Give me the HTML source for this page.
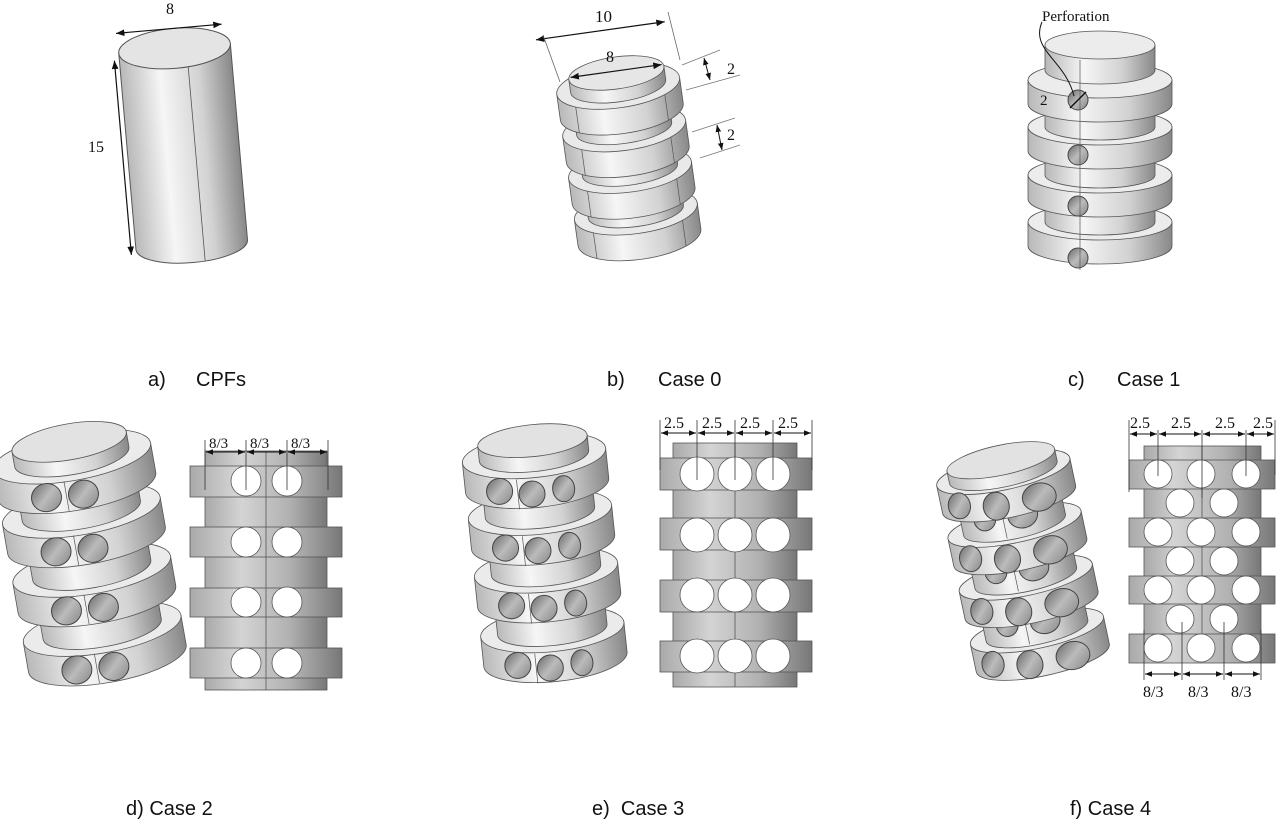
<!DOCTYPE html>
<html><head><meta charset="utf-8"><style>
html,body{margin:0;padding:0;background:#fff}
svg{display:block}
text{font-family:"Liberation Serif",serif;fill:#111}
.cap{font-family:"Liberation Sans",sans-serif;font-size:20px}
</style></head><body>
<svg width="1280" height="824" viewBox="0 0 1280 824" xmlns="http://www.w3.org/2000/svg">
<defs>
<linearGradient id="gs" x1="0" x2="1" y1="0" y2="0">
<stop offset="0" stop-color="#b8b8b8"/><stop offset=".35" stop-color="#f6f6f6"/><stop offset=".7" stop-color="#d2d2d2"/><stop offset="1" stop-color="#888"/>
</linearGradient>
<linearGradient id="gf" x1="0" x2="1" y1="0" y2="0">
<stop offset="0" stop-color="#a9a9a9"/><stop offset=".3" stop-color="#d4d4d4"/><stop offset=".7" stop-color="#b0b0b0"/><stop offset="1" stop-color="#777"/>
</linearGradient>
<linearGradient id="gh" x1="0" x2="1" y1="0" y2="1">
<stop offset="0" stop-color="#666"/><stop offset=".5" stop-color="#bbb"/><stop offset="1" stop-color="#888"/>
</linearGradient>
<marker id="ar" viewBox="0 0 10 10" refX="10" refY="5" markerWidth="7" markerHeight="7" orient="auto-start-reverse"><path d="M0 1L10 5L0 9Z" fill="#111"/></marker>
<!-- ring b -->
<g id="rB"><path d="M-62 0V26A62 22 0 0 0 62 26V0Z" fill="url(#gs)" stroke="#555" stroke-width=".8"/><ellipse rx="62" ry="22" fill="#e9e9e9" stroke="#555" stroke-width=".8"/><line x1="-45" y1="15" x2="-45" y2="41" stroke="#555" stroke-width=".7"/><line x1="45" y1="15" x2="45" y2="41" stroke="#555" stroke-width=".7"/></g>
<path id="cB" d="M-48 -45V0A48 15 0 0 0 48 0V-45Z" fill="url(#gs)" stroke="#555" stroke-width=".8"/>
<!-- ring c -->
<g id="rC"><path d="M-72 0V24A72 18 0 0 0 72 24V0Z" fill="url(#gs)" stroke="#555" stroke-width=".8"/><ellipse rx="72" ry="18" fill="#ececec" stroke="#555" stroke-width=".8"/></g>
<path id="cC" d="M-55 -47V0A55 13 0 0 0 55 0V-47Z" fill="url(#gs)" stroke="#555" stroke-width=".8"/>
<!-- ring obliques -->
<g id="rD"><path d="M-80 0V30A80 24 0 0 0 80 30V0Z" fill="url(#gs)" stroke="#555" stroke-width=".8"/><ellipse rx="80" ry="24" fill="#ebebeb" stroke="#555" stroke-width=".8"/>
<ellipse cx="-32" cy="36" rx="15" ry="14" fill="url(#gh)" stroke="#444"/><ellipse cx="5" cy="39" rx="15" ry="14" fill="url(#gh)" stroke="#444"/><line x1="-12" y1="23" x2="-12" y2="53" stroke="#555" stroke-width=".7"/></g>
<path id="cD" d="M-60 -60V0A60 18 0 0 0 60 0V-60Z" fill="url(#gs)" stroke="#555" stroke-width=".8"/>
<g id="rE"><path d="M-72 0V30A72 22 0 0 0 72 30V0Z" fill="url(#gs)" stroke="#555" stroke-width=".8"/><ellipse rx="72" ry="22" fill="#ebebeb" stroke="#555" stroke-width=".8"/>
<ellipse cx="-38" cy="32" rx="13" ry="13" fill="url(#gh)" stroke="#444"/><ellipse cx="-6" cy="38" rx="13" ry="13" fill="url(#gh)" stroke="#444"/><ellipse cx="26" cy="36" rx="11" ry="13" fill="url(#gh)" stroke="#444"/><line x1="-20" y1="22" x2="-20" y2="52" stroke="#555" stroke-width=".7"/></g>
<path id="cE" d="M-55 -60V0A55 16 0 0 0 55 0V-60Z" fill="url(#gs)" stroke="#555" stroke-width=".8"/>
<g id="rF"><path d="M-68 0V28A68 18 0 0 0 68 28V0Z" fill="url(#gs)" stroke="#555" stroke-width=".8"/><ellipse rx="68" ry="18" fill="#ebebeb" stroke="#555" stroke-width=".8"/>
<ellipse cx="-50" cy="24" rx="11" ry="13" fill="url(#gh)" stroke="#444"/><ellipse cx="-14" cy="32" rx="13" ry="14" fill="url(#gh)" stroke="#444"/><ellipse cx="30" cy="32" rx="17" ry="14" fill="url(#gh)" stroke="#444"/></g>
<g id="cF"><path d="M-52 -34V0A52 14 0 0 0 52 0V-34Z" fill="url(#gs)" stroke="#555" stroke-width=".8"/><ellipse cx="-28" cy="-12" rx="11" ry="12" fill="url(#gh)" stroke="#444"/><ellipse cx="10" cy="-8" rx="15" ry="13" fill="url(#gh)" stroke="#444"/><line x1="-10" y1="-34" x2="-10" y2="12" stroke="#555" stroke-width=".7"/></g>
</defs>

<!-- a) CPF -->
<g transform="rotate(-5 183 145)">
<path d="M127 48V245A56 18 0 0 0 239 245V48Z" fill="url(#gs)" stroke="#555"/>
<ellipse cx="183" cy="48" rx="56" ry="20" fill="#e4e4e4" stroke="#555"/>
<line x1="195" y1="67" x2="195" y2="263" stroke="#555" stroke-width=".8"/>
<line x1="122" y1="55" x2="122" y2="250" stroke="#111" stroke-width="1.2" marker-start="url(#ar)" marker-end="url(#ar)"/>
<line x1="126" y1="28" x2="232" y2="28" stroke="#111" stroke-width="1.2" marker-start="url(#ar)" marker-end="url(#ar)"/>
</g>
<text x="166" y="14" font-size="16">8</text>
<text x="88" y="152" font-size="16">15</text>

<!-- b) Case 0 -->
<g transform="translate(630 0) rotate(-8 0 170)">
<use href="#rB" y="212"/><use href="#cB" y="212"/>
<use href="#rB" y="170"/><use href="#cB" y="170"/>
<use href="#rB" y="128"/><use href="#cB" y="128"/>
<use href="#rB" y="85"/>
<path d="M-48 72V85A48 16 0 0 0 48 85V72Z" fill="url(#gs)" stroke="#555" stroke-width=".8"/>
<ellipse cy="72" rx="48" ry="16" fill="#e6e6e6" stroke="#555" stroke-width=".8"/>
<line x1="-46" y1="70" x2="46" y2="70" stroke="#111" stroke-width="1.2" marker-start="url(#ar)" marker-end="url(#ar)"/>
<line x1="-75" y1="28" x2="55" y2="28" stroke="#111" stroke-width="1.2" marker-start="url(#ar)" marker-end="url(#ar)"/>
</g>
<line x1="543" y1="35" x2="560" y2="82" stroke="#666" stroke-width=".8"/>
<line x1="668" y1="12" x2="680" y2="60" stroke="#666" stroke-width=".8"/>
<line x1="682" y1="65" x2="720" y2="50" stroke="#777" stroke-width=".8"/><line x1="686" y1="90" x2="740" y2="75" stroke="#777" stroke-width=".8"/>
<line x1="704" y1="58" x2="710" y2="80" stroke="#111" marker-start="url(#ar)" marker-end="url(#ar)"/>
<line x1="692" y1="132" x2="735" y2="118" stroke="#777" stroke-width=".8"/><line x1="700" y1="158" x2="740" y2="145" stroke="#777" stroke-width=".8"/>
<line x1="717" y1="125" x2="722" y2="150" stroke="#111" marker-start="url(#ar)" marker-end="url(#ar)"/>
<text x="595" y="22" font-size="17">10</text>
<text x="606" y="62" font-size="16">8</text>
<text x="727" y="74" font-size="16">2</text>
<text x="727" y="140" font-size="16">2</text>

<!-- c) Case 1 -->
<g transform="translate(1100 0)">
<use href="#rC" y="222"/><use href="#cC" y="222"/>
<use href="#rC" y="175"/><use href="#cC" y="175"/>
<use href="#rC" y="127"/><use href="#cC" y="127"/>
<use href="#rC" y="80"/>
<path d="M-55 45V70A55 14 0 0 0 55 70V45Z" fill="url(#gs)" stroke="#555" stroke-width=".8"/>
<ellipse cy="45" rx="55" ry="14" fill="#ececec" stroke="#555" stroke-width=".8"/>
<circle cx="-22" cy="100" r="10" fill="url(#gh)" stroke="#444"/>
<circle cx="-22" cy="155" r="10" fill="url(#gh)" stroke="#444"/>
<circle cx="-22" cy="206" r="10" fill="url(#gh)" stroke="#444"/>
<circle cx="-22" cy="258" r="10" fill="url(#gh)" stroke="#444"/>
<line x1="-20" y1="60" x2="-20" y2="270" stroke="#555" stroke-width=".7"/>
</g>
<path d="M1042 22C1030 50 1065 60 1074 96" fill="none" stroke="#111"/>
<line x1="1070" y1="108" x2="1086" y2="92" stroke="#111" stroke-width="1.5"/>
<text x="1042" y="21" font-size="15">Perforation</text>
<text x="1040" y="105" font-size="15">2</text>

<!-- d) Case 2 left -->
<g transform="translate(90 0) rotate(-10 0 560)">
<use href="#rD" y="630"/><use href="#cD" y="630"/>
<use href="#rD" y="570"/><use href="#cD" y="570"/>
<use href="#rD" y="510"/><use href="#cD" y="510"/>
<use href="#rD" y="455"/>
<path d="M-58 440V455A58 18 0 0 0 58 455V440Z" fill="url(#gs)" stroke="#555" stroke-width=".8"/>
<ellipse cy="440" rx="58" ry="18" fill="#e2e2e2" stroke="#555" stroke-width=".8"/>
</g>
<!-- d) right -->
<g stroke="#555" stroke-width=".8">
<rect x="205" y="451" width="122" height="239" fill="url(#gf)"/>
<rect x="190" y="466" width="152" height="31" fill="url(#gf)"/>
<rect x="190" y="527" width="152" height="30" fill="url(#gf)"/>
<rect x="190" y="588" width="152" height="29" fill="url(#gf)"/>
<rect x="190" y="648" width="152" height="30" fill="url(#gf)"/>
<line x1="266" y1="451" x2="266" y2="690"/>
<g fill="#fff"><circle cx="246" cy="481" r="15"/><circle cx="287" cy="481" r="15"/><circle cx="246" cy="542" r="15"/><circle cx="287" cy="542" r="15"/><circle cx="246" cy="602" r="15"/><circle cx="287" cy="602" r="15"/><circle cx="246" cy="663" r="15"/><circle cx="287" cy="663" r="15"/></g>
<g stroke="#333"><line x1="205" y1="440" x2="205" y2="490"/><line x1="246" y1="440" x2="246" y2="490"/><line x1="287" y1="440" x2="287" y2="490"/><line x1="328" y1="440" x2="328" y2="490"/></g>
</g>
<g stroke="#111"><line x1="206" y1="452" x2="245" y2="452" marker-start="url(#ar)" marker-end="url(#ar)"/><line x1="247" y1="452" x2="286" y2="452" marker-start="url(#ar)" marker-end="url(#ar)"/><line x1="288" y1="452" x2="327" y2="452" marker-start="url(#ar)" marker-end="url(#ar)"/></g>
<text x="209" y="448" font-size="15">8/3</text><text x="250" y="448" font-size="15">8/3</text><text x="291" y="448" font-size="15">8/3</text>

<!-- e) Case 3 left -->
<g transform="translate(545 0) rotate(-6 0 560)">
<use href="#rE" y="630"/><use href="#cE" y="630"/>
<use href="#rE" y="570"/><use href="#cE" y="570"/>
<use href="#rE" y="512"/><use href="#cE" y="512"/>
<use href="#rE" y="455"/>
<path d="M-55 440V455A55 16 0 0 0 55 455V440Z" fill="url(#gs)" stroke="#555" stroke-width=".8"/>
<ellipse cy="440" rx="55" ry="16" fill="#e2e2e2" stroke="#555" stroke-width=".8"/>
</g>
<!-- e) right -->
<g stroke="#555" stroke-width=".8">
<rect x="673" y="443" width="124" height="244" fill="url(#gf)"/>
<rect x="660" y="458" width="152" height="32" fill="url(#gf)"/>
<rect x="660" y="518" width="152" height="32" fill="url(#gf)"/>
<rect x="660" y="580" width="152" height="32" fill="url(#gf)"/>
<rect x="660" y="641" width="152" height="31" fill="url(#gf)"/>
<line x1="735" y1="443" x2="735" y2="687"/>
<g fill="#fff"><circle cx="697" cy="474" r="17"/><circle cx="735" cy="474" r="17"/><circle cx="773" cy="474" r="17"/><circle cx="697" cy="535" r="17"/><circle cx="735" cy="535" r="17"/><circle cx="773" cy="535" r="17"/><circle cx="697" cy="595" r="17"/><circle cx="735" cy="595" r="17"/><circle cx="773" cy="595" r="17"/><circle cx="697" cy="656" r="17"/><circle cx="735" cy="656" r="17"/><circle cx="773" cy="656" r="17"/></g>
<g stroke="#333"><line x1="660" y1="420" x2="660" y2="470"/><line x1="697" y1="420" x2="697" y2="480"/><line x1="735" y1="420" x2="735" y2="480"/><line x1="773" y1="420" x2="773" y2="480"/><line x1="812" y1="420" x2="812" y2="470"/></g>
</g>
<g stroke="#111"><line x1="661" y1="433" x2="696" y2="433" marker-start="url(#ar)" marker-end="url(#ar)"/><line x1="698" y1="433" x2="734" y2="433" marker-start="url(#ar)" marker-end="url(#ar)"/><line x1="736" y1="433" x2="772" y2="433" marker-start="url(#ar)" marker-end="url(#ar)"/><line x1="774" y1="433" x2="811" y2="433" marker-start="url(#ar)" marker-end="url(#ar)"/></g>
<text x="664" y="428" font-size="16">2.5</text><text x="702" y="428" font-size="16">2.5</text><text x="740" y="428" font-size="16">2.5</text><text x="778" y="428" font-size="16">2.5</text>

<!-- f) Case 4 left -->
<g transform="translate(1022 0) rotate(-12 0 560)">
<use href="#rF" y="632"/><use href="#cF" y="632"/>
<use href="#rF" y="578"/><use href="#cF" y="578"/>
<use href="#rF" y="524"/><use href="#cF" y="524"/>
<use href="#rF" y="470"/>
<path d="M-55 458V470A55 15 0 0 0 55 470V458Z" fill="url(#gs)" stroke="#555" stroke-width=".8"/>
<ellipse cy="458" rx="55" ry="15" fill="#e2e2e2" stroke="#555" stroke-width=".8"/>
</g>
<!-- f) right -->
<g stroke="#555" stroke-width=".8">
<rect x="1144" y="446" width="117" height="216" fill="url(#gf)"/>
<rect x="1129" y="460" width="146" height="29" fill="url(#gf)"/>
<rect x="1129" y="518" width="146" height="29" fill="url(#gf)"/>
<rect x="1129" y="576" width="146" height="28" fill="url(#gf)"/>
<rect x="1129" y="634" width="146" height="29" fill="url(#gf)"/>
<line x1="1202" y1="446" x2="1202" y2="662"/>
<g fill="#fff"><circle cx="1158" cy="474" r="14"/><circle cx="1201" cy="474" r="14"/><circle cx="1246" cy="474" r="14"/>
<circle cx="1180" cy="503" r="14"/><circle cx="1224" cy="503" r="14"/>
<circle cx="1158" cy="532" r="14"/><circle cx="1201" cy="532" r="14"/><circle cx="1246" cy="532" r="14"/>
<circle cx="1180" cy="561" r="14"/><circle cx="1224" cy="561" r="14"/>
<circle cx="1158" cy="590" r="14"/><circle cx="1201" cy="590" r="14"/><circle cx="1246" cy="590" r="14"/>
<circle cx="1180" cy="619" r="14"/><circle cx="1224" cy="619" r="14"/>
<circle cx="1158" cy="648" r="14"/><circle cx="1201" cy="648" r="14"/><circle cx="1246" cy="648" r="14"/></g>
<g stroke="#333"><line x1="1129" y1="420" x2="1129" y2="492"/><line x1="1158" y1="430" x2="1158" y2="476"/><line x1="1202" y1="430" x2="1202" y2="498"/><line x1="1246" y1="430" x2="1246" y2="476"/><line x1="1275" y1="420" x2="1275" y2="475"/>
<line x1="1144" y1="630" x2="1144" y2="680"/><line x1="1182" y1="622" x2="1182" y2="680"/><line x1="1224" y1="622" x2="1224" y2="680"/><line x1="1261" y1="630" x2="1261" y2="680"/></g>
</g>
<g stroke="#111"><line x1="1130" y1="434" x2="1157" y2="434" marker-start="url(#ar)" marker-end="url(#ar)"/><line x1="1159" y1="434" x2="1201" y2="434" marker-start="url(#ar)" marker-end="url(#ar)"/><line x1="1203" y1="434" x2="1245" y2="434" marker-start="url(#ar)" marker-end="url(#ar)"/><line x1="1247" y1="434" x2="1274" y2="434" marker-start="url(#ar)" marker-end="url(#ar)"/>
<line x1="1145" y1="674" x2="1181" y2="674" marker-start="url(#ar)" marker-end="url(#ar)"/><line x1="1183" y1="674" x2="1223" y2="674" marker-start="url(#ar)" marker-end="url(#ar)"/><line x1="1225" y1="674" x2="1260" y2="674" marker-start="url(#ar)" marker-end="url(#ar)"/></g>
<text x="1130" y="428" font-size="16">2.5</text><text x="1171" y="428" font-size="16">2.5</text><text x="1215" y="428" font-size="16">2.5</text><text x="1253" y="428" font-size="16">2.5</text>
<text x="1143" y="697" font-size="16">8/3</text><text x="1188" y="697" font-size="16">8/3</text><text x="1231" y="697" font-size="16">8/3</text>

<!-- captions -->
<text class="cap" x="148" y="386">a)</text><text class="cap" x="196" y="386">CPFs</text>
<text class="cap" x="607" y="386">b)</text><text class="cap" x="658" y="386">Case 0</text>
<text class="cap" x="1068" y="386">c)</text><text class="cap" x="1117" y="386">Case 1</text>
<text class="cap" x="126" y="815">d) Case 2</text>
<text class="cap" x="592" y="815">e)&#160;&#160;Case 3</text>
<text class="cap" x="1070" y="815">f) Case 4</text>
</svg>
</body></html>
